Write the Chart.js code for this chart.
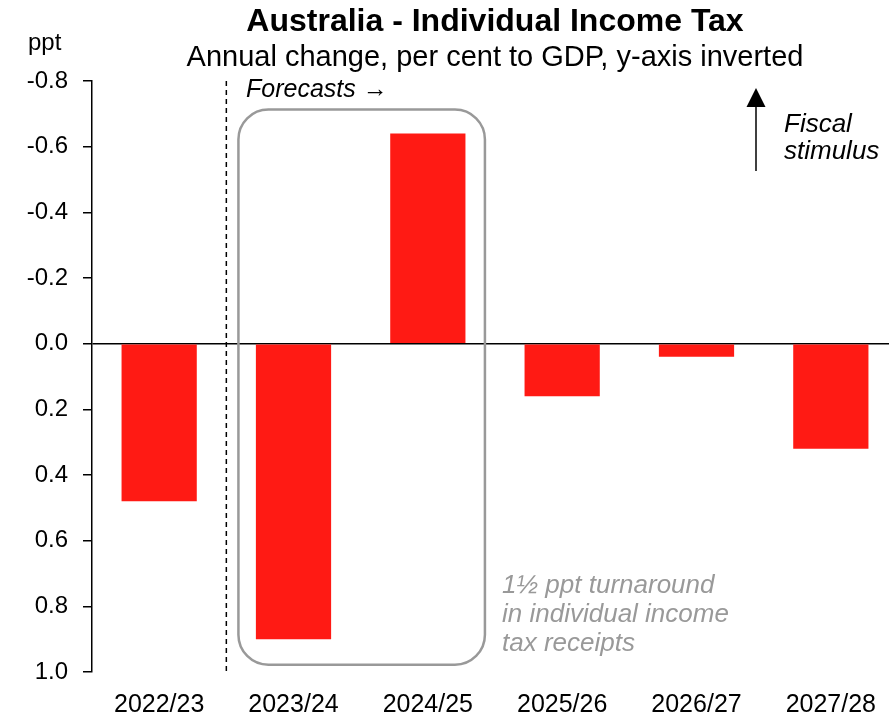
<!DOCTYPE html>
<html>
<head>
<meta charset="utf-8">
<title>Australia - Individual Income Tax</title>
<script src="https://cdn.jsdelivr.net/npm/chart.js@4"></script>
<style>
  html, body { margin: 0; padding: 0; background: #fff; overflow: hidden; }
  #chart { display: block; }
</style>
</head>
<body>
<canvas id="chart" width="900" height="718"></canvas>
<script>
'use strict';

// --- DATA ---
const years = ['2022/23', '2023/24', '2024/25', '2025/26', '2026/27', '2027/28'];
const taxChange = [0.48, 0.90, -0.64, 0.16, 0.04, 0.32];   // ppt of GDP, positive = tighter
const yTicks = [-0.8, -0.6, -0.4, -0.2, 0.0, 0.2, 0.4, 0.6, 0.8, 1.0];
const turnaroundNote = ['1½ ppt turnaround', 'in individual income', 'tax receipts'];
const stimulusNote = ['Fiscal', 'stimulus'];

const FONT = '"Liberation Sans", Arial, sans-serif';
const BAR_RED = '#ff1a14';
const NOTE_GREY = '#999999';

// --- OVERLAYS: titles, forecast divider, highlight box, arrow ---
const overlayPlugin = {
    id: 'overlay',
    afterDraw(chart) {
        const { ctx, chartArea, scales: { x, y } } = chart;
        const midX = (chartArea.left + chartArea.right) / 2;
        ctx.save();

        // titles
        ctx.fillStyle = '#000';
        ctx.textAlign = 'center';
        ctx.textBaseline = 'alphabetic';
        ctx.font = `bold 32px ${FONT}`;
        ctx.fillText('Australia - Individual Income Tax', midX, 31);
        ctx.font = `29px ${FONT}`;
        ctx.fillText('Annual change, per cent to GDP, y-axis inverted', midX, 66);

        ctx.textAlign = 'left';
        ctx.font = `24px ${FONT}`;
        ctx.fillText('ppt', 28, 50);

        // dashed line where forecasts begin
        const divX = x.getPixelForValue(0.5);
        ctx.strokeStyle = '#000';
        ctx.lineWidth = 1.5;
        ctx.setLineDash([5, 4]);
        ctx.beginPath();
        ctx.moveTo(divX, chartArea.top);
        ctx.lineTo(divX, chartArea.bottom);
        ctx.stroke();
        ctx.setLineDash([]);

        ctx.font = `italic 25px ${FONT}`;
        ctx.fillText('Forecasts \u2192', 246, 97);

        // rounded box around the two big swings
        const bx0 = x.getPixelForValue(0.59);
        const bx1 = x.getPixelForValue(2.425);
        const by0 = y.getPixelForValue(-0.713);
        const by1 = y.getPixelForValue(0.978);
        ctx.strokeStyle = NOTE_GREY;
        ctx.lineWidth = 2.5;
        ctx.beginPath();
        ctx.roundRect(bx0, by0, bx1 - bx0, by1 - by0, 30);
        ctx.stroke();

        ctx.fillStyle = NOTE_GREY;
        ctx.font = `italic 26px ${FONT}`;
        turnaroundNote.forEach((line, i) => ctx.fillText(line, 502, 593 + i * 29));

        // fiscal stimulus arrow
        ctx.strokeStyle = '#000';
        ctx.fillStyle = '#000';
        ctx.lineWidth = 1.5;
        ctx.beginPath();
        ctx.moveTo(756, 171);
        ctx.lineTo(756, 104);
        ctx.stroke();
        ctx.beginPath();
        ctx.moveTo(756, 88);
        ctx.lineTo(765.5, 107);
        ctx.lineTo(746.5, 107);
        ctx.closePath();
        ctx.fill();

        ctx.font = `italic 26px ${FONT}`;
        stimulusNote.forEach((line, i) => ctx.fillText(line, 784, 132 + i * 27));

        ctx.restore();
    }
};

const isZero = v => Math.abs(v) < 1e-9;

new Chart(document.getElementById('chart'), {
    type: 'bar',
    data: {
        labels: years,
        datasets: [{
            data: taxChange,
            backgroundColor: BAR_RED,
            borderWidth: 0,
            barPercentage: 0.56,
            categoryPercentage: 1.0
        }]
    },
    options: {
        responsive: false,
        animation: false,
        devicePixelRatio: 1,
        layout: { padding: { top: 81, right: 2, bottom: 0, left: 0 } },
        plugins: {
            legend: { display: false },
            title: { display: false },
            tooltip: { enabled: false }
        },
        scales: {
            x: {
                grid: { display: false },
                border: { display: false },
                ticks: { color: '#000', padding: 10, font: { family: FONT, size: 25 } },
                afterFit: s => { s.height = 46; }
            },
            y: {
                reverse: true,
                min: yTicks[0],
                max: yTicks[yTicks.length - 1],
                afterBuildTicks: s => { s.ticks = yTicks.map(v => ({ value: v })); },
                afterFit: s => { s.width = 92; },
                border: { display: true, color: '#000', width: 1.5 },
                grid: {
                    color: c => (c.tick && isZero(c.tick.value) ? '#000' : 'rgba(0,0,0,0)'),
                    lineWidth: 1.5,
                    tickLength: 9,
                    tickColor: '#000',
                    tickWidth: 1.5
                },
                ticks: {
                    color: '#000',
                    padding: 15,
                    font: { family: FONT, size: 24 },
                    callback: v => (isZero(v) ? '0.0' : Number(v).toFixed(1))
                }
            }
        }
    },
    plugins: [overlayPlugin]
});
</script>
</body>
</html>
